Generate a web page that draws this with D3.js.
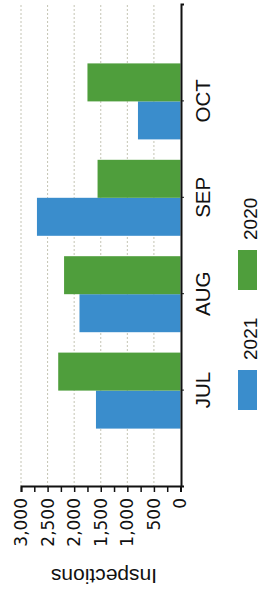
<!DOCTYPE html>
<html>
<head>
<meta charset="utf-8">
<script src="https://cdn.jsdelivr.net/npm/d3@7"></script>
<style>
  body { margin: 0; background: #fff; }
  text { font-family: "Liberation Sans", Arial, sans-serif; fill: #111; }
</style>
</head>
<body>
<script>
// chart data
var months = ["JUL", "AUG", "SEP", "OCT"];
var seriesNames = ["2021", "2020"];
var values2021 = [1590, 1900, 2700, 800];
var values2020 = [2300, 2190, 1560, 1750];
var colors = ["#3a8dcc", "#4f9e3c"];
var valueTicks = d3.range(0, 3001, 250);

window.onload = function(){
    // the page is a scanned chart turned a quarter turn, so build it upright and rotate
    var svg = d3.select("body")
        .append("svg")
        .attr("width", 262)
        .attr("height", 592);

    var g = svg.append("g")
        .attr("transform", "translate(0,592) rotate(-90)");

    var y = d3.scaleLinear()
        .domain([0, 3000])
        .range([180.5, 21]);

    var x = d3.scalePoint()
        .domain(months)
        .range([105, 587])
        .padding(1);

    var sub = d3.scaleBand()
        .domain(seriesNames)
        .range([-38, 38]);

    // dotted grid
    g.append("g")
        .selectAll("line")
        .data(d3.range(500, 3001, 500))
        .enter()
        .append("line")
        .attr("x1", 105)
        .attr("x2", 587)
        .attr("y1", function(d){ return y(d); })
        .attr("y2", function(d){ return y(d); })
        .attr("stroke", "#c4c4b4")
        .attr("stroke-width", 1)
        .attr("stroke-dasharray", "2,2");

    // bars
    var series = [values2021, values2020];
    var groups = g.selectAll(".month")
        .data(months)
        .enter()
        .append("g")
        .attr("class", "month")
        .attr("transform", function(d){ return "translate(" + x(d) + ",0)"; });

    groups.selectAll("rect")
        .data(function(d, i){
            return seriesNames.map(function(s, j){ return { key: s, value: series[j][i], color: colors[j] }; });
        })
        .enter()
        .append("rect")
        .attr("x", function(d){ return sub(d.key); })
        .attr("width", sub.bandwidth())
        .attr("y", function(d){ return y(d.value); })
        .attr("height", function(d){ return y(0) - y(d.value); })
        .attr("fill", function(d){ return d.color; });

    // value axis
    var yAxis = g.append("g")
        .attr("transform", "translate(105,0)")
        .call(d3.axisLeft(y)
            .tickValues(valueTicks)
            .tickSize(5)
            .tickPadding(6)
            .tickFormat(function(d){ return d % 500 === 0 ? d3.format(",")(d) : ""; }));
    yAxis.select(".domain").attr("stroke", "#111").attr("stroke-width", 2);
    yAxis.selectAll(".tick line").attr("stroke", "#111").attr("stroke-width", 1.5);
    yAxis.selectAll("text")
        .style("font-family", "'DejaVu Sans', sans-serif")
        .style("font-size", "17px")
        .attr("fill", "#111");

    // category axis
    var xAxis = g.append("g")
        .attr("transform", "translate(0,181)")
        .call(d3.axisBottom(x).tickSize(3).tickPadding(11));
    xAxis.select(".domain").attr("stroke", "#111").attr("stroke-width", 2);
    xAxis.selectAll(".tick line").attr("stroke", "#111");
    xAxis.selectAll("text")
        .style("font-family", "'Liberation Sans', Arial, sans-serif")
        .style("font-size", "20.5px")
        .attr("fill", "#111");

    // axis title
    g.append("text")
        .attr("transform", "translate(23,104) rotate(-90)")
        .attr("text-anchor", "middle")
        .style("font-size", "21px")
        .text("Inspections");

    // legend
    var legend = g.selectAll(".legend")
        .data(seriesNames)
        .enter()
        .append("g")
        .attr("class", "legend")
        .attr("transform", function(d, i){ return "translate(" + (182 + i * 120) + ",238)"; });

    legend.append("rect")
        .attr("width", 40)
        .attr("height", 19)
        .attr("fill", function(d, i){ return colors[i]; });

    legend.append("text")
        .attr("x", 50)
        .attr("y", 19)
        .style("font-size", "19px")
        .text(function(d){ return d; });
};
</script>
</body>
</html>
